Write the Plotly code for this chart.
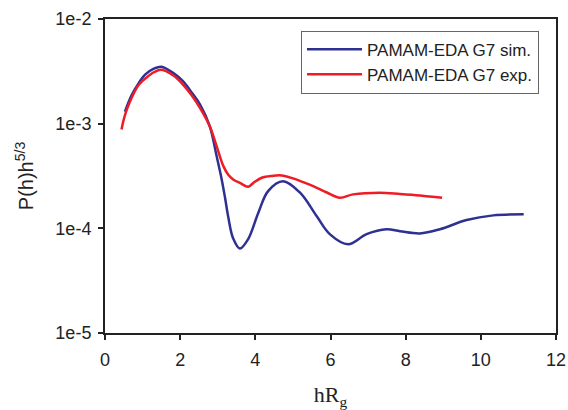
import plotly.graph_objects as go

# Experimental (red)
exp_x = [0.44, 0.5, 0.58, 0.75, 0.9, 1.1, 1.3, 1.5, 1.82, 2.08, 2.3, 2.53, 2.79, 2.97, 3.15,
         3.28, 3.41, 3.6, 3.81, 3.95, 4.17, 4.45, 4.7, 5.0, 5.32, 5.54, 5.9, 6.25, 6.6,
         7.31, 7.85, 8.38, 8.97]
exp_y = [8.8e-4, 1.1e-3, 1.36e-3, 1.9e-3, 2.35e-3, 2.75e-3, 3.1e-3, 3.27e-3, 2.88e-3, 2.35e-3,
         1.88e-3, 1.41e-3, 9.4e-4, 6.1e-4, 3.93e-4, 3.25e-4, 2.93e-4, 2.7e-4, 2.49e-4, 2.72e-4,
         3.04e-4, 3.17e-4, 3.2e-4, 3.0e-4, 2.72e-4, 2.53e-4, 2.2e-4, 1.96e-4, 2.11e-4,
         2.19e-4, 2.13e-4, 2.06e-4, 1.96e-4]

# Simulation (blue)
sim_x = [0.53, 0.7, 0.9, 1.06, 1.3, 1.5, 1.82, 2.08, 2.3, 2.53, 2.79, 2.97, 3.1, 3.19, 3.28,
         3.41, 3.59, 3.81, 4.08, 4.34, 4.74, 5.19, 5.63, 5.98, 6.47, 6.96, 7.49, 7.85, 8.38,
         8.91, 9.62, 10.33, 11.14]
sim_y = [1.3e-3, 1.85e-3, 2.45e-3, 2.93e-3, 3.35e-3, 3.5e-3, 3.04e-3, 2.53e-3, 2.0e-3,
         1.52e-3, 9.4e-4, 4.9e-4, 3.0e-4, 2.0e-4, 1.28e-4, 8.0e-5, 6.4e-5, 7.9e-5, 1.41e-4,
         2.27e-4, 2.82e-4, 2.19e-4, 1.31e-4, 8.8e-5, 7.05e-5, 8.8e-5, 9.8e-5, 9.4e-5, 8.95e-5,
         9.8e-5, 1.2e-4, 1.33e-4, 1.36e-4]

y_tickvals = [1e-5, 1e-4, 1e-3, 1e-2]
y_ticktext = ["1e-5", "1e-4", "1e-3", "1e-2"]
x_tickvals = [0, 2, 4, 6, 8, 10, 12]

fig = go.Figure()
fig.add_trace(go.Scatter(x=sim_x, y=sim_y, mode="lines", name="PAMAM-EDA G7 sim.",
                         line=dict(color="#2e3192", width=2.5, shape="spline", smoothing=1)))
fig.add_trace(go.Scatter(x=exp_x, y=exp_y, mode="lines", name="PAMAM-EDA G7 exp.",
                         line=dict(color="#ee1c25", width=2.5, shape="spline", smoothing=1)))

font = "Liberation Sans, Arial, sans-serif"
fig.update_layout(
    width=568, height=410,
    margin=dict(l=105, r=12, t=19, b=77),
    paper_bgcolor="white", plot_bgcolor="white",
    font=dict(family=font, size=18, color="#222"),
    showlegend=True,
    legend=dict(x=0.4346, y=0.963, xanchor="left", yanchor="top",
                bordercolor="#666", borderwidth=1, bgcolor="white",
                font=dict(family=font, size=17, color="#222"),
                tracegroupgap=0, itemwidth=55),
    xaxis=dict(range=[0, 12], tickvals=x_tickvals, ticks="outside", ticklen=5, tickwidth=2,
               tickcolor="#222", showline=True, linecolor="#222", linewidth=2, mirror=True,
               showgrid=False, zeroline=False, ticklabelstandoff=4, automargin=False,
               tickfont=dict(family=font, size=18, color="#222"),
               title=dict(text="hR<sub>g</sub>",
                          font=dict(family="Liberation Serif, Times New Roman, serif", size=22, color="#222"),
                          standoff=18)),
    yaxis=dict(type="log", range=[-5, -2], tickvals=y_tickvals, ticktext=y_ticktext,
               ticks="outside", ticklen=5, tickwidth=2, tickcolor="#222",
               showline=True, linecolor="#222", linewidth=2, mirror=True,
               showgrid=False, zeroline=False, ticklabelstandoff=3, automargin=False,
               tickfont=dict(family=font, size=18, color="#222"),
               title=dict(text="P(h)h<sup>5/3</sup>", font=dict(family=font, size=20, color="#222"),
                          standoff=16)),
)

fig.write_html("out.html")
